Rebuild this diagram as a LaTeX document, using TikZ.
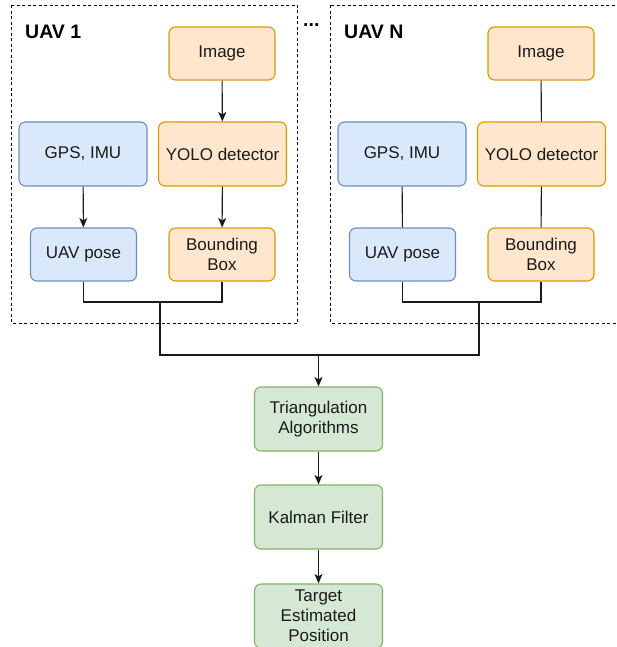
\documentclass[tikz,border=0pt]{standalone}
\usepackage{fontspec}
\setmainfont{Liberation Sans}
\usetikzlibrary{arrows.meta}
\definecolor{bluefill}{HTML}{DAE8FC}\definecolor{bluedraw}{HTML}{6C8EBF}
\definecolor{orfill}{HTML}{FFE6CC}\definecolor{ordraw}{HTML}{D79B00}
\definecolor{grfill}{HTML}{D5E8D4}\definecolor{grdraw}{HTML}{82B366}
\definecolor{ink}{HTML}{1A1A1A}
\begin{document}
\begin{tikzpicture}[x=1pt,y=-1pt,
  box/.style={rounded corners=6.5pt,line width=1.1pt,inner sep=0pt,align=center,
    text=ink,font=\fontsize{17}{20}\selectfont},
  bigbox/.style={box,minimum width=128pt,minimum height=64pt},
  smallbox/.style={box,minimum width=106pt,minimum height=53pt},
  blue/.style={fill=bluefill,draw=bluedraw},
  orange/.style={fill=orfill,draw=ordraw},
  green/.style={fill=grfill,draw=grdraw},
  wire/.style={line width=1.1pt,draw=ink},
  arr/.style={wire,-{Stealth[length=9.5pt,width=8pt,inset=2.5pt]}},
  group/.style={draw=black,line width=1pt,dash pattern=on 3pt off 2.5pt},
  title/.style={font=\bfseries\fontsize{19.5}{22}\selectfont,anchor=base west,inner sep=0pt}]
\useasboundingbox (0,0) rectangle (616,647);

% dashed frames of the two UAV groups
\draw[group] (11.5,5.5) rectangle (297.5,323);
\draw[group] (330.5,5.5) rectangle (617,323);
\node[title] (t1) at (25,39) {UAV 1};
\node[title] (tN) at (344,39) {UAV N};
\node[title] (dots) at (303,27) {...};

% UAV 1
\node[smallbox,orange] (img1) at (222,53.5) {Image};
\node[bigbox,blue] (gps1) at (83,154) {GPS, IMU};
\node[bigbox,orange] (yolo1) at (222.5,154) {YOLO detector};
\node[smallbox,blue] (pose1) at (83.5,254.5) {UAV pose};
\node[smallbox,orange] (bb1) at (222,254.5) {Bounding\\Box};
\draw[arr] (img1) -- (yolo1);
\draw[arr] (gps1) -- (pose1);
\draw[arr] (yolo1) -- (bb1);
\coordinate (j1) at (160,302);
\draw[wire] (pose1.south) -- (pose1.south |- j1) -| (bb1.south);

% UAV N
\node[smallbox,orange] (imgN) at (541,53.5) {Image};
\node[bigbox,blue] (gpsN) at (402,154) {GPS, IMU};
\node[bigbox,orange] (yoloN) at (541.5,154) {YOLO detector};
\node[smallbox,blue] (poseN) at (402.5,254.5) {UAV pose};
\node[smallbox,orange] (bbN) at (541,254.5) {Bounding\\Box};
\draw[wire] (imgN) -- (yoloN);
\draw[wire] (gpsN) -- (poseN);
\draw[wire] (yoloN) -- (bbN);
\coordinate (jN) at (479,302);
\draw[wire] (poseN.south) -- (poseN.south |- jN) -| (bbN.south);

% fusion chain
\node[bigbox,green] (tri) at (318.5,419) {Triangulation\\Algorithms};
\node[bigbox,green] (kal) at (318.5,517) {Kalman Filter};
\node[bigbox,green] (tgt) at (318.5,616) {Target\\Estimated\\Position};
\coordinate (bus) at (318.5,355);
\draw[wire] (j1) |- (bus) -| (jN);
\draw[arr] (bus) -- (tri);
\draw[arr] (tri) -- (kal);
\draw[arr] (kal) -- (tgt);
\end{tikzpicture}
\end{document}
